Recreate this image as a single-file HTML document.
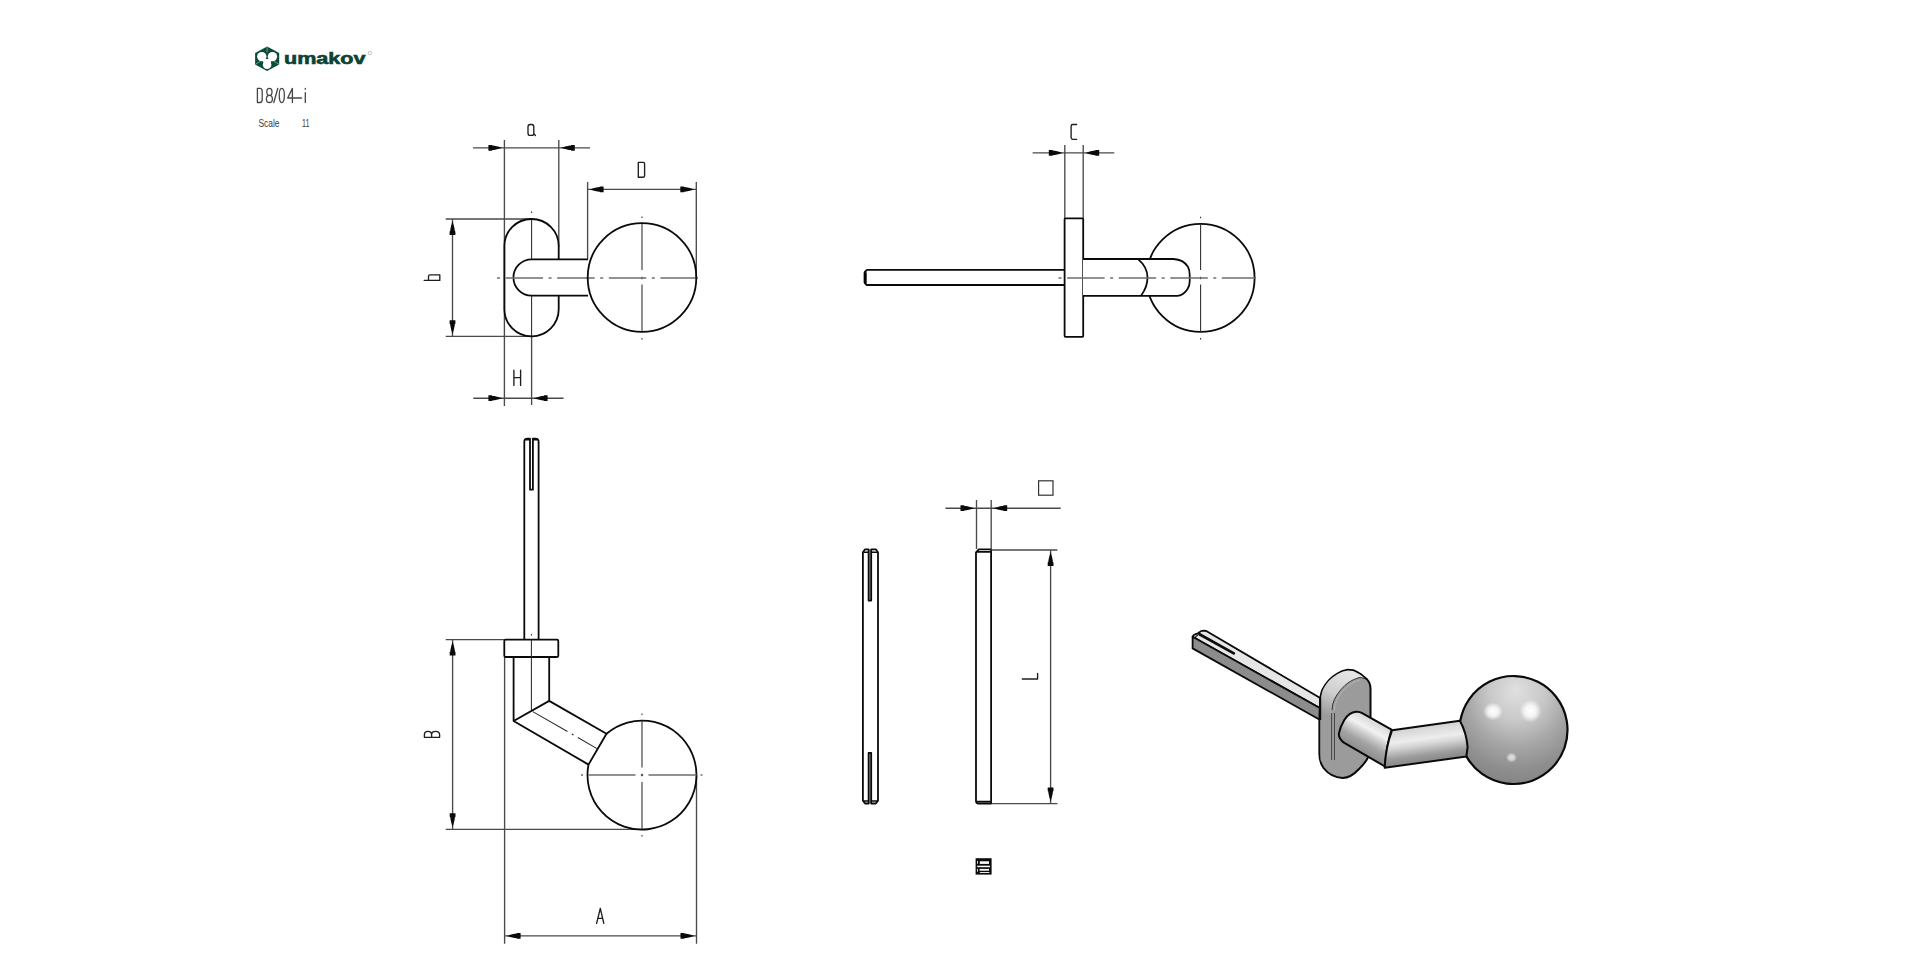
<!DOCTYPE html>
<html><head><meta charset="utf-8"><title>D8/04-i</title>
<style>
html,body{margin:0;padding:0;background:#fff;width:1919px;height:979px;overflow:hidden}
svg{display:block}
.o{fill:none;stroke:#0a0a0a;stroke-width:1.8;stroke-linejoin:round}
.ow{fill:#fff;stroke:#0a0a0a;stroke-width:1.8;stroke-linejoin:round}
.d{fill:none;stroke:#4a4a4a;stroke-width:1.35}
.c{fill:none;stroke:#6e6e6e;stroke-width:1.4}
.v{fill:none;stroke:#2a2a2a;stroke-width:1.05}
.t{fill:none;stroke:#1e1e1e;stroke-width:1.35;stroke-linecap:round;stroke-linejoin:round}
.ar{fill:#0a0a0a}
</style></head>
<body>
<svg width="1919" height="979" viewBox="0 0 1919 979">
<defs>
  <!-- arrowhead pointing +x with tip at origin -->
  <path id="ah" d="M-2,0 L-6.5,-1.3 L-10,-2.1 L-12,-2.3 L-12.5,-2.9 L-16,-2.9 L-16,2.9 L-12.5,2.9 L-12,2.3 L-10,2.1 L-6.5,1.3 Z"/>
</defs>

<!-- ===== LOGO ===== -->
<g id="logo">
  <polygon points="267.1,46.4 279.2,53.0 279.2,64.6 267.1,71.0 255.1,64.6 255.1,53.0" fill="#0d4a3a"/>
  <g fill="#fff">
    <circle cx="261.8" cy="56.6" r="4.7"/>
    <circle cx="272.4" cy="56.6" r="4.7"/>
    <circle cx="267.1" cy="64.8" r="4.3"/>
    <polygon points="262,59 272.2,59 270.5,63 263.7,63"/>
  </g>
  <polygon points="264.6,52 269.6,52 267.1,55.6" fill="#0d4a3a"/>
  <path d="M267.1,46.6 V52.2 M255.3,64.4 L260.6,61 M279.0,64.4 L273.6,61" stroke="#8fc0b0" stroke-width="0.7"/>
  <text x="284" y="63.8" font-family="Liberation Sans, sans-serif" font-weight="bold" font-size="16" fill="#0c4234" stroke="#0c4234" stroke-width="0.6" textLength="81.5" lengthAdjust="spacingAndGlyphs">umakov</text>
  <circle cx="369.9" cy="52.9" r="1.7" fill="none" stroke="#99a" stroke-width="0.6"/>
</g>
<g fill="none" stroke="#464646" stroke-width="1.3" stroke-linecap="round" stroke-linejoin="round">
  <path d="M257.4,88.4 V102.5 H260 Q262.2,102.5 262.2,99.5 V91.4 Q262.2,88.4 260,88.4 Z"/>
  <ellipse cx="269.4" cy="91.9" rx="2.6" ry="3.5"/>
  <ellipse cx="269.4" cy="98.9" rx="3" ry="3.6"/>
  <path d="M273.8,102.5 L277.8,88.3"/>
  <ellipse cx="281.8" cy="95.45" rx="2.55" ry="7.1"/>
  <path d="M292.4,102.5 V88.4 L287.7,98 H301.5"/>
  <path d="M305.3,92.6 V102.5 M305.3,88.4 V89.2"/>
</g>
<text x="258.5" y="126.8" font-family="Liberation Sans, sans-serif" font-size="11" fill="#3a3a3a" textLength="21" lengthAdjust="spacingAndGlyphs">Scale</text>
<text x="302" y="126.8" font-family="Liberation Sans, sans-serif" font-size="11" fill="#3a3a3a" textLength="7.5" lengthAdjust="spacingAndGlyphs">11</text>

<!-- ===== VIEW 1 : side view ===== -->
<g id="v1">
  <!-- extension lines -->
  <path class="d" d="M504.4,140 V406 M531.6,405 V336 M558.8,140 V247 M587.6,182 V259 M696.3,182 V277 M445.7,219 H531 M445.7,336.3 H531"/>
  <!-- centre lines -->
  <path class="v" d="M531.6,211.5 V213 M531.6,219 V270.2 M531.6,276.8 V279.2 M531.6,283 V336"/>
  <path class="v" d="M642,216.5 V218 M642,223.5 V270 M642,276.8 V279.2 M642,284.5 V332 M642,338 V339.5"/>
  <!-- rose -->
  <rect class="o" x="504.4" y="219" width="54.3" height="117.3" rx="27" ry="27"/>
  <!-- neck -->
  <path class="ow" d="M588,259.4 H531.6 A18.15,18.15 0 0 0 531.6,295.7 H588"/>
  <path class="c" d="M497,278 H700" style="stroke-dasharray:37.5 5.5 3 5.6;stroke-dashoffset:43"/>
  <!-- ball -->
  <circle class="o" cx="642" cy="277.5" r="54.3"/>
  <!-- dims -->
  <path class="d" d="M473,147.8 H590 M587.6,189.4 H696.3 M452.5,219 V336.3 M473.3,398.2 H563.6"/>
  <use href="#ah" class="ar" transform="translate(504.4,147.8)"/>
  <use href="#ah" class="ar" transform="translate(558.8,147.8) rotate(180)"/>
  <use href="#ah" class="ar" transform="translate(587.6,189.4) rotate(180)"/>
  <use href="#ah" class="ar" transform="translate(696.3,189.4)"/>
  <use href="#ah" class="ar" transform="translate(452.5,219) rotate(-90)"/>
  <use href="#ah" class="ar" transform="translate(452.5,336.3) rotate(90)"/>
  <use href="#ah" class="ar" transform="translate(504.4,398.2)"/>
  <use href="#ah" class="ar" transform="translate(531.6,398.2) rotate(180)"/>
  <!-- labels -->
  <path class="t" d="M530.2,124.5 H531.7 Q533.8,124.5 533.8,126.8 V133.2 Q533.8,135.4 531.7,135.4 H530.2 Q528,135.4 528,133.2 V126.8 Q528,124.5 530.2,124.5 Z M533.8,133.6 L535.4,135.5"/>
  <path class="t" d="M638.3,162.4 V177.2 H643.3 Q644.6,177.2 644.6,175.8 V163.8 Q644.6,162.4 643.3,162.4 Z"/>
  <path class="t" d="M424.2,280.4 H439.8 V274.8 H430.2 Q428.5,274.8 428.5,276.6 V280.4"/>
  <path class="t" d="M513.9,370.2 V385.4 M520.6,370.2 V385.4 M513.9,377.6 H520.6"/>
</g>

<!-- ===== VIEW 2 : front view ===== -->
<g id="v2">
  <path class="d" d="M1064.8,145 V218 M1083.2,145 V218 M1032.6,152.9 H1114.3"/>
  <use href="#ah" class="ar" transform="translate(1064.8,152.9)"/>
  <use href="#ah" class="ar" transform="translate(1083.2,152.9) rotate(180)"/>
  <path class="t" d="M1076.6,124.5 H1072.8 Q1071.1,124.5 1071.1,126.3 V137.6 Q1071.1,139.4 1072.8,139.4 H1076.6"/>
  <!-- ball -->
  <circle class="o" cx="1200.6" cy="277.9" r="54"/>
  <path class="v" d="M1200.6,216.8 V218.3 M1200.6,223.8 V270 M1200.6,276.8 V279.2 M1200.6,284.5 V332 M1200.6,338 V339.5"/>
  <!-- spindle -->
  <path class="ow" d="M1064,269.8 H867 L864.8,272 V283 L866.8,285 H1064"/>
  <path d="M865.2,272.3 V283" stroke="#000" stroke-width="3"/>
  <!-- plate -->
  <rect class="ow" x="1064.6" y="218.3" width="18.6" height="118.5" rx="0.8"/>
  <!-- neck -->
  <path class="ow" d="M1083,259 H1173.4 Q1183.5,259.5 1188,266.9 Q1189.7,270 1189.7,275.3 V281.5 Q1189.7,286 1187.4,289.3 Q1183,295.8 1177.3,295.8 H1083"/>
  <path class="o" d="M1138.5,259.6 Q1147.5,267 1147.5,277.5 Q1147.5,287 1141.3,295.2"/>
  <path class="c" d="M1058.5,278 H1256" style="stroke-dasharray:37.5 5.5 3 5.6;stroke-dashoffset:43"/>
</g>

<!-- ===== VIEW 3 : top view ===== -->
<g id="v3">
  <path class="d" d="M445.7,639.6 H504.4 M445.7,829.3 H650 M504.6,657 V943.7 M696.5,775 V943.7 M452.6,639.6 V829.3 M504.6,935.9 H696.5"/>
  <use href="#ah" class="ar" transform="translate(452.6,639.6) rotate(-90)"/>
  <use href="#ah" class="ar" transform="translate(452.6,829.3) rotate(90)"/>
  <use href="#ah" class="ar" transform="translate(504.6,935.9) rotate(180)"/>
  <use href="#ah" class="ar" transform="translate(696.5,935.9)"/>
  <!-- spindle -->
  <path class="o" d="M524.3,639.5 V441.6 Q524.3,438.7 527.5,438.7 H530 V489.7 H532.9 V438.7 H535.4 Q538.6,438.7 538.6,441.6 V639.5"/>
  <path d="M525.5,439.6 H529.6 M533.3,439.6 H537.5" stroke="#0a0a0a" stroke-width="1.6"/>
  <!-- plate -->
  <rect class="o" x="504.3" y="639.7" width="54" height="17.3" rx="1.2"/>
  <path class="v" d="M531.4,634 V635.5 M531.4,639.7 V711"/>
  <!-- neck -->
  <path class="o" d="M513.6,656.8 V721 L588.5,764.6 M549.2,656.8 V700.9 L606.5,733.7 L588.5,764.6 M513.6,721 L549.2,700.9"/>
  <path class="v" d="M532.8,711.6 L597,748.6" style="stroke-dasharray:40 5 2 5"/>
  <!-- ball -->
  <path class="o" d="M606.5,733.7 A54.5,54.5 0 1 1 588.5,764.6"/>
  <path class="c" d="M581,775 H583 M588,775 H635.5 M640.8,775 H643.2 M648.5,775 H696.5 M700.5,775 H702.5" style="stroke-dasharray:none"/>
  <path class="v" d="M642,713.5 V715 M642,720.5 V767.5 M642,773.8 V776.2 M642,782 V829 M642,835 V836.5"/>
  <!-- labels -->
  <path class="t" d="M424.4,737.3 H439.6 V734.6 Q439.6,731.4 435.6,731.4 Q431.6,731.4 431.6,734.6 V737.3 M431.6,734.6 Q431.6,731.4 428,731.4 Q424.4,731.4 424.4,734.6 V737.3"/>
  <path class="t" d="M596.6,923.4 L600.3,908.3 L603.8,923.4 M597.8,918.3 H602.7"/>
</g>

<!-- ===== VIEW 4 : spindles ===== -->
<g id="v4">
  <!-- left spindle -->
  <rect x="868.6" y="549.4" width="2.6" height="51.2" fill="#a6a6a6"/>
  <rect x="868.6" y="753" width="2.6" height="50.4" fill="#a6a6a6"/>
  <path class="o" d="M862.9,552.3 L865.1,549.3 H868.6 V600.6 H871.2 V549.3 H875.8 L878,552.3 V800.6 L875.8,803.5 H871.2 V753 H868.6 V803.5 H865.1 L862.9,800.6 Z"/>
  <path d="M863.5,552.3 H868.3 M871.5,552.3 H877.4 M863.5,801 H868.3 M871.5,801 H877.4" stroke="#0a0a0a" stroke-width="1.5"/>
  <!-- right spindle -->
  <path class="o" d="M976,552.3 L978.8,549.3 H991.1 V803.5 H978.6 Q976,803.5 976,801 Z"/>
  <path d="M976.6,551.9 H990.6 M976.6,801.6 H990.6" stroke="#0a0a0a" stroke-width="1.6"/>
  <path class="d" d="M976.5,500 V549 M991.2,500 V549 M945.4,508.2 H1060.7 M991.2,550 H1057.4 M991.7,803.6 H1057.5 M1050.6,550 V803.6"/>
  <use href="#ah" class="ar" transform="translate(976.5,508.2)"/>
  <use href="#ah" class="ar" transform="translate(991.2,508.2) rotate(180)"/>
  <use href="#ah" class="ar" transform="translate(1050.6,550) rotate(-90)"/>
  <use href="#ah" class="ar" transform="translate(1050.6,803.6) rotate(90)"/>
  <rect x="1038.6" y="480.8" width="14.4" height="14.4" fill="none" stroke="#333" stroke-width="1.2"/>
  <path class="t" d="M1022.3,679 H1037.6 V673.5"/>
  <!-- square icon -->
  <rect x="975.6" y="858.2" width="16" height="16.4" fill="#0a0a0a"/>
  <g fill="#fff">
    <rect x="979.8" y="861.3" width="9.2" height="2.6"/>
    <rect x="977.2" y="861" width="0.8" height="2.8"/>
    <rect x="977.2" y="865.7" width="12.8" height="1.5"/>
    <rect x="979.6" y="868.9" width="9.4" height="1.8"/>
    <rect x="977.2" y="868.9" width="0.8" height="2.8"/>
    <rect x="979.8" y="872" width="9.6" height="0.9"/>
  </g>
</g>

<!-- ===== VIEW 5 : 3D ===== -->
<g id="v5">
  <defs>
    <linearGradient id="gs1" gradientUnits="userSpaceOnUse" x1="1377" y1="721.5" x2="1359.9" y2="752">
      <stop offset="0" stop-color="#d6d6d6"/>
      <stop offset="0.3" stop-color="#f2f2f2"/>
      <stop offset="0.45" stop-color="#d2d2d2"/>
      <stop offset="0.7" stop-color="#a4a4a4"/>
      <stop offset="1" stop-color="#8c8c8c"/>
    </linearGradient>
    <linearGradient id="gs2" gradientUnits="userSpaceOnUse" x1="1425" y1="725.6" x2="1430" y2="762.2">
      <stop offset="0" stop-color="#d2d2d2"/>
      <stop offset="0.35" stop-color="#ededed"/>
      <stop offset="0.5" stop-color="#d6d6d6"/>
      <stop offset="0.78" stop-color="#9c9c9c"/>
      <stop offset="0.93" stop-color="#8c8c8c"/>
      <stop offset="1" stop-color="#9a9a9a"/>
    </linearGradient>
    <linearGradient id="grim" gradientUnits="userSpaceOnUse" x1="1345" y1="672" x2="1326" y2="715">
      <stop offset="0" stop-color="#e4e4e4"/>
      <stop offset="0.5" stop-color="#cfcfcf"/>
      <stop offset="0.8" stop-color="#b0b0b0"/>
      <stop offset="1" stop-color="#9c9c9c"/>
    </linearGradient>
    <radialGradient id="gball" gradientUnits="userSpaceOnUse" cx="1518" cy="700" r="84" fx="1516" fy="690">
      <stop offset="0" stop-color="#e0e0e0"/>
      <stop offset="0.33" stop-color="#c8c8c8"/>
      <stop offset="0.6" stop-color="#a6a6a6"/>
      <stop offset="0.85" stop-color="#8e8e8e"/>
      <stop offset="1" stop-color="#858585"/>
    </radialGradient>
    <radialGradient id="ghl">
      <stop offset="0" stop-color="#fff" stop-opacity="1"/>
      <stop offset="0.5" stop-color="#fff" stop-opacity="0.8"/>
      <stop offset="1" stop-color="#fff" stop-opacity="0"/>
    </radialGradient>
  </defs>
  <!-- spindle -->
  <path d="M1192.6,636.8 Q1193,635 1195,634.4 L1198,633.3 L1199.3,632.3 Q1201,630.6 1203.5,630.6 L1206.3,631 L1320.2,698 V708.2 Z" fill="#e6e6e6" stroke="#0a0a0a" stroke-width="1.8" stroke-linejoin="round"/>
  <polygon points="1192.6,636.8 1320.2,708.2 1320.2,720 1192.6,648.4" fill="#8c8c8c" stroke="#0a0a0a" stroke-width="1.8" stroke-linejoin="round"/>
  <path d="M1199.5,634.2 L1233.8,653.4" stroke="#0a0a0a" stroke-width="2.8" stroke-linecap="round"/>
  <path d="M1195,638.2 Q1196,635.6 1198,635" stroke="#0a0a0a" stroke-width="1.2" fill="none"/>
  <!-- rose -->
  <path d="M1320.2,698.4 Q1321.5,691 1323.1,688.6 Q1325.5,684 1328.8,680.4 Q1332.5,676.5 1337,673.9 Q1342,670.5 1347.6,669.8 L1353.3,670.2 Q1357.5,672 1361.5,674.7 L1367.2,679.6 Q1370.5,683 1370.5,689 V748 Q1370.5,758 1359,769 Q1351,777.8 1342.7,778 Q1331,777.5 1323.5,768 Q1319.4,762 1319.4,754 V720 Z" fill="#9b9b9b" stroke="#0a0a0a" stroke-width="2" stroke-linejoin="round"/>
  <path d="M1321,698.4 Q1322,691 1323.6,688.6 Q1326,684 1329.2,680.6 Q1333,676.8 1337.3,674.3 Q1342,671.2 1347.6,670.5 L1353,670.9 Q1357,672.6 1361,675.3 L1364,677.8 Q1359.5,677.2 1359,677.6 Q1353.5,679.2 1349.2,682 Q1344.5,685.3 1341,689.4 Q1337,694 1334.5,699.2 Q1332.2,704 1332,709 V765 Q1326,771 1320.5,760 V720 Z" fill="url(#grim)"/>
  <path d="M1332,710 Q1332.2,704 1334.5,699.2 Q1337,694 1341,689.4 Q1344.5,685.3 1349.2,682 Q1353.5,679.2 1359,677.6 Q1361.5,677.2 1364.5,678.6" fill="none" stroke="#2a2a2a" stroke-width="0.9"/>
  <path d="M1334.2,711 Q1334.5,705 1336.6,700.6 Q1339,695.8 1342.6,691.4 Q1346,687.4 1350.3,684.4 Q1354.5,681.6 1359.5,680" fill="none" stroke="#bdbdbd" stroke-width="0.8"/>
  <path d="M1331.6,713 V760 M1334.5,713 V760" stroke="#3a3a3a" stroke-width="0.9"/>
  <path d="M1320.2,698 V720" stroke="#0a0a0a" stroke-width="2"/>
  <!-- neck segment 1 -->
  <path d="M1391.5,729.7 L1362.2,713.2 Q1359.5,711.5 1356,711.8 Q1349,712.5 1344.3,720 Q1340,727 1338.9,733.6 Q1338.5,739 1344.3,742.9 L1385,766.5 Q1386,748 1391.5,729.7 Z" fill="url(#gs1)" stroke="#0a0a0a" stroke-width="2" stroke-linejoin="round"/>
  <!-- ball -->
  <circle cx="1513.6" cy="730.2" r="54" fill="url(#gball)"/>
  <ellipse cx="1493" cy="711.5" rx="10" ry="9" fill="url(#ghl)"/>
  <ellipse cx="1530.5" cy="711" rx="11" ry="11.5" fill="url(#ghl)"/>
  <ellipse cx="1511.5" cy="757.5" rx="5.5" ry="5" fill="url(#ghl)" opacity="0.7"/>
  <path d="M1460.3,720.8 A54,54 0 1 1 1466.4,756.4" fill="none" stroke="#0a0a0a" stroke-width="2.2"/>
  <!-- neck segment 2 -->
  <path d="M1392.1,730.2 L1459.9,720.8 Q1466.5,733 1467.6,747 L1466.4,756.4 L1384.7,767.8 Q1385.5,748 1392.1,730.2 Z" fill="url(#gs2)" stroke="#0a0a0a" stroke-width="2" stroke-linejoin="round"/>
</g>
</svg>
</body></html>
